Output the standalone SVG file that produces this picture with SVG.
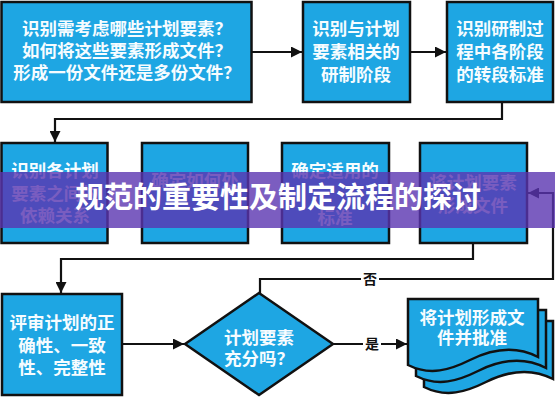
<svg xmlns="http://www.w3.org/2000/svg" width="555" height="400" viewBox="0 0 555 400">
<defs>
<style>
.box{fill:#1ea6e3;stroke:#111;stroke-width:2.5}
.t{font-family:"Noto Sans CJK SC","Noto Sans",sans-serif;font-weight:bold;font-size:17.5px;fill:#f6fcff;text-anchor:middle}
.lbl{font-family:"Noto Sans CJK SC","Noto Sans",sans-serif;font-weight:bold;font-size:14px;fill:#111;text-anchor:middle}
.c{fill:none;stroke:#111;stroke-width:2.2}
.ttl{font-family:"Noto Sans CJK SC","Noto Sans",sans-serif;font-weight:bold;font-size:29px;fill:#fff;text-anchor:middle}
</style>
<marker id="ah" viewBox="0 0 10 10" refX="10" refY="5" markerWidth="13" markerHeight="11" markerUnits="userSpaceOnUse" orient="auto">
<path d="M0,0 L10,5 L0,10 z" fill="#111"/>
</marker>
</defs>
<rect width="555" height="400" fill="#fff"/>

<g id="connectors">
<path class="c" d="M252,52 H302" marker-end="url(#ah)"/>
<path class="c" d="M410,52 H446" marker-end="url(#ah)"/>
<path class="c" d="M502,102 V119 H55 V142" marker-end="url(#ah)"/>
<path class="c" d="M260,293 V279 H553 V193 H528" marker-end="url(#ah)"/>
<path class="c" d="M473,243 V259 H61 V293" marker-end="url(#ah)"/>
<path class="c" d="M122,344 H184" marker-end="url(#ah)"/>
<path class="c" d="M333,344 H407" marker-end="url(#ah)"/>
<rect x="361" y="270" width="18" height="18" fill="#fff"/>
<text class="lbl" x="370" y="284">否</text>
<rect x="363" y="335" width="18" height="18" fill="#fff"/>
<text class="lbl" x="372" y="349">是</text>
</g>

<g id="nodeA">
<rect class="box" x="1.5" y="2" width="250" height="100"/>
<text class="t" x="127" y="35">识别需考虑哪些计划要素？</text>
<text class="t" x="127" y="57">如何将这些要素形成文件？</text>
<text class="t" x="127" y="79">形成一份文件还是多份文件？</text>
</g>
<g id="nodeB">
<rect class="box" x="303" y="2" width="107" height="100"/>
<text class="t" x="356" y="34.5">识别与计划</text>
<text class="t" x="356" y="57.5">要素相关的</text>
<text class="t" x="356" y="80.5">研制阶段</text>
</g>
<g id="nodeC">
<rect class="box" x="447" y="2" width="106" height="100"/>
<text class="t" x="500" y="34.5">识别研制过</text>
<text class="t" x="500" y="57.5">程中各阶段</text>
<text class="t" x="500" y="80.5">的转段标准</text>
</g>

<g id="nodeD">
<rect class="box" x="1.5" y="143" width="106" height="100"/>
<text class="t" x="55" y="176.5">识别各计划</text>
<text class="t" x="55" y="199.5">要素之间的</text>
<text class="t" x="55" y="221.5">依赖关系</text>
</g>
<g id="nodeE">
<rect class="box" x="142" y="143" width="106" height="100"/>
<text class="t" x="195" y="186.5">确定如何处</text>
</g>
<g id="nodeF">
<rect class="box" x="282" y="143" width="107" height="100"/>
<text class="t" x="335" y="176.5">确定适用的</text>
<text class="t" x="335" y="223.5">标准</text>
</g>
<g id="nodeG">
<rect class="box" x="420" y="143" width="107" height="100"/>
<text class="t" x="473" y="188.5">将计划要素</text>
<text class="t" x="473" y="211.5">形成文件</text>
</g>

<g id="nodeH">
<rect class="box" x="2" y="294" width="120" height="101"/>
<text class="t" x="62" y="328.5">评审计划的正</text>
<text class="t" x="62" y="351.5">确性、一致</text>
<text class="t" x="62" y="373.5">性、完整性</text>
</g>
<g id="nodeDecision">
<path class="box" d="M259,293 L333,344 L259,395 L185,344 Z"/>
<text class="t" x="259" y="343.5">计划要素</text>
<text class="t" x="259" y="364.5">充分吗？</text>
</g>
<g id="nodeDoc">
<path class="box" d="M424,321 H553 V379 C530,367 506,372 486,382 C466,392 446,398 424,387 Z"/>
<path class="box" d="M416,310 H546 V368 C523,356 498,361 478,371 C458,381 438,387 416,376 Z"/>
<path class="box" d="M408,299 H538 V357 C515,345 490,350 470,360 C450,370 430,376 408,365 Z"/>
<text class="t" x="472" y="323.5">将计划形成文</text>
<text class="t" x="472" y="343.5">件并批准</text>
</g>

<g id="banner">
<rect x="0" y="172" width="555" height="56" fill="#5a35b0" fill-opacity="0.8"/>
<text class="ttl" x="278" y="208">规范的重要性及制定流程的探讨</text>
</g>
</svg>
